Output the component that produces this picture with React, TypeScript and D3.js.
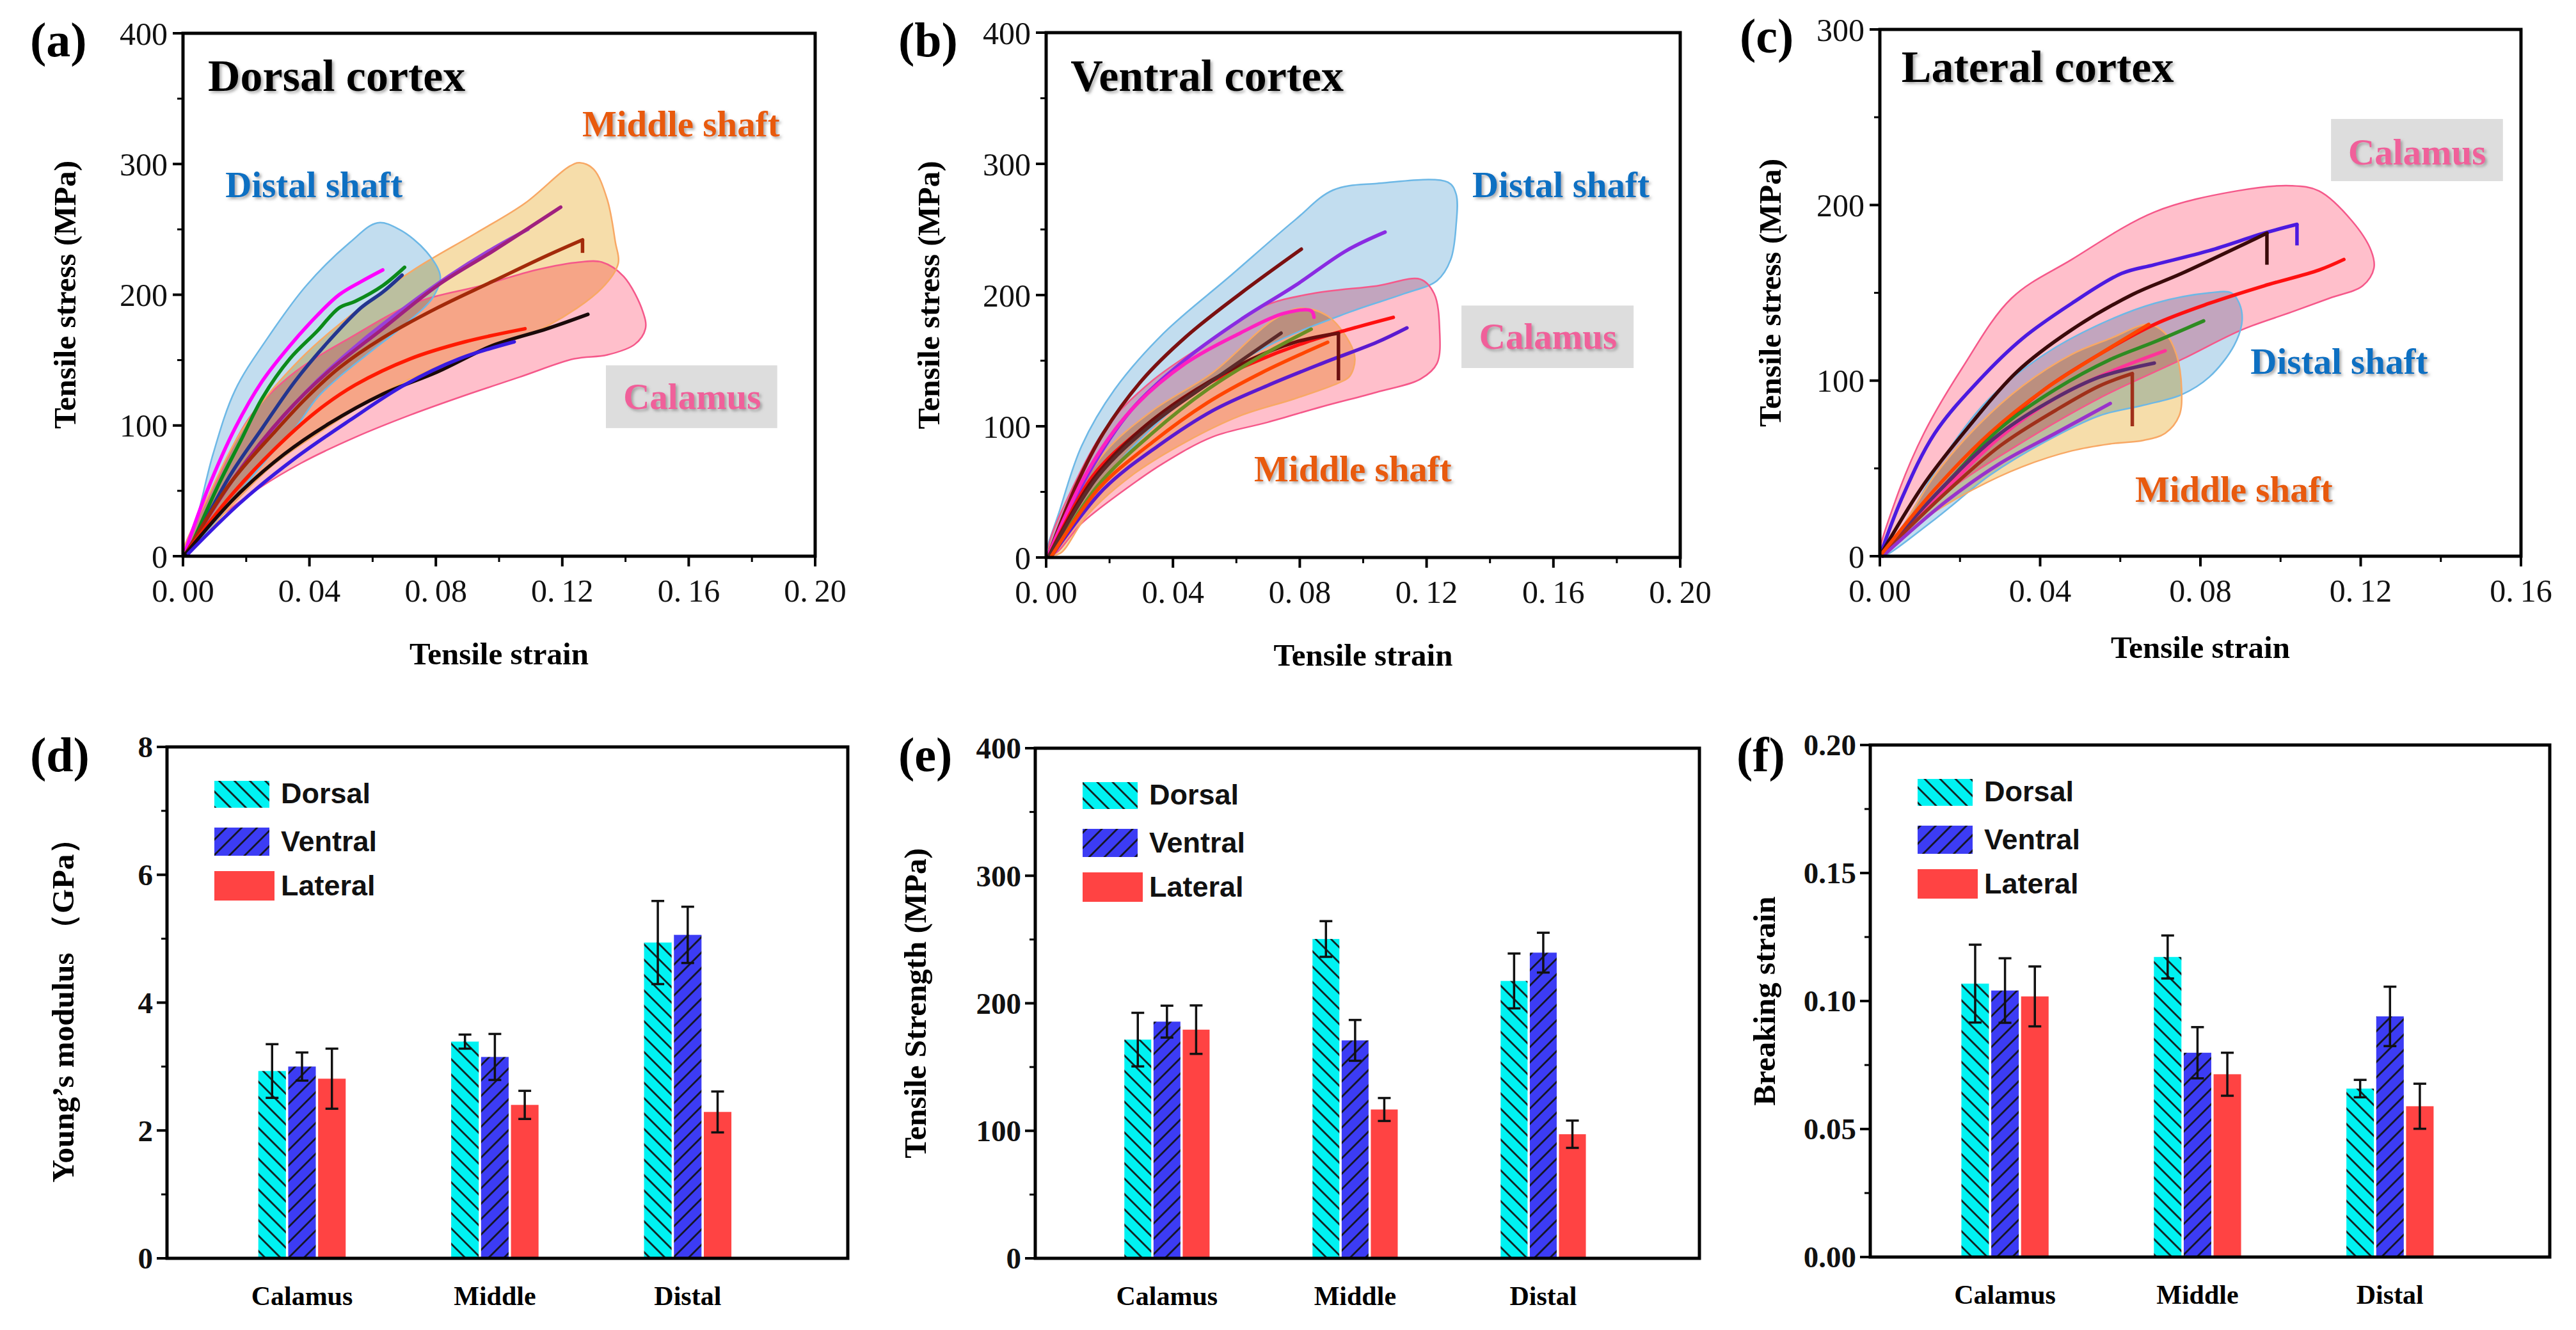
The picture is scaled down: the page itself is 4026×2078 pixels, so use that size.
import React from 'react';
import * as d3 from 'd3';

type P = [number, number];

// ---------- (a) Dorsal cortex: stress-strain curves ----------
const dorsalDistalEnvelope: P[] = [[0.0009,3],[0.0043,28],[0.0095,78],[0.0165,127],[0.0268,167],[0.039,207],[0.0528,240],[0.0615,255],[0.0684,250],[0.077,233],[0.0814,214],[0.0788,197],[0.0701,177],[0.0597,157],[0.0494,137],[0.0424,121],[0.0355,98],[0.0268,75],[0.0165,45],[0.006,15]];
const dorsalMiddleEnvelope: P[] = [[0,2],[0.0078,45],[0.0199,101],[0.0372,151],[0.0545,187],[0.0736,220],[0.0926,247],[0.1082,270],[0.1221,298],[0.1255,301],[0.1299,296],[0.1342,273],[0.1368,240],[0.1377,224],[0.1325,205],[0.1152,176],[0.0978,160],[0.0805,145],[0.0632,125],[0.0459,99],[0.0286,70],[0.0147,37],[0.0026,5]];
const dorsalCalamusEnvelope: P[] = [[0.0009,5],[0.0113,61],[0.0216,108],[0.0355,141],[0.0528,167],[0.0736,194],[0.0944,207],[0.1117,219],[0.1255,225],[0.1325,225],[0.1394,214],[0.1455,187],[0.1463,174],[0.1429,162],[0.1342,154],[0.1238,151],[0.1065,137],[0.0892,123],[0.0719,108],[0.0545,91],[0.0372,71],[0.0216,48],[0.0095,25],[0.0017,2]];
const dorsalCurves: P[][] = [
  [[0.0009,5],[0.0078,51],[0.0165,98],[0.0251,134],[0.0338,161],[0.0424,184],[0.0494,200],[0.0563,210],[0.0632,219]],
  [[0.0017,3],[0.0113,55],[0.0182,88],[0.0251,121],[0.0338,151],[0.0424,172],[0.0494,190],[0.0545,195],[0.0632,207],[0.0701,221]],
  [[0.0017,2],[0.0147,61],[0.0251,98],[0.0355,134],[0.0459,164],[0.0563,190],[0.0632,202],[0.0693,215]],
  [[0.0009,2],[0.0147,55],[0.0286,98],[0.0424,134],[0.0563,164],[0.0701,190],[0.084,214],[0.0978,235],[0.1091,250]],
  [[0.0009,2],[0.0165,61],[0.032,108],[0.0459,141],[0.0632,174],[0.0805,207],[0.0978,233],[0.1195,267]],
  [[0.0009,2],[0.0147,55],[0.0286,94],[0.039,121],[0.0494,144],[0.0632,167],[0.0805,190],[0.0978,210],[0.1152,230],[0.1264,242]],
  [[0.0009,2],[0.0147,45],[0.0286,81],[0.0424,111],[0.0545,131],[0.0719,151],[0.0892,164],[0.1082,174]],
  [[0.0009,2],[0.0165,45],[0.032,78],[0.0459,101],[0.0632,124],[0.0805,141],[0.0978,161],[0.1152,174],[0.1281,185]],
  [[0.0017,2],[0.0182,41],[0.0355,75],[0.0528,104],[0.0701,131],[0.0874,151],[0.1048,164]],
];
const dorsalDrops: (number | null)[] = [null, null, null, null, null, 232, null, null, null];

// ---------- (b) Ventral cortex ----------
const ventralDistalEnvelope: P[] = [[0,1],[0.0043,36],[0.0112,85],[0.0216,128],[0.0371,171],[0.0578,214],[0.0784,257],[0.0905,280],[0.1043,285],[0.1267,286],[0.1293,277],[0.1293,253],[0.1276,227],[0.1233,211],[0.1129,201],[0.0957,187],[0.0698,161],[0.044,121],[0.0216,69],[0.006,16]];
const ventralCalamusEnvelope: P[] = [[0.0009,6],[0.0095,59],[0.0198,102],[0.0336,135],[0.0509,164],[0.0681,191],[0.0836,201],[0.1043,207],[0.1181,212],[0.1224,201],[0.1241,174],[0.1233,148],[0.1181,136],[0.1043,126],[0.0871,115],[0.0698,103],[0.0526,92],[0.0371,72],[0.0233,49],[0.0112,26],[0.0026,3]];
const ventralMiddleEnvelope: P[] = [[0.0009,3],[0.006,29],[0.0181,79],[0.0336,112],[0.0526,141],[0.0716,181],[0.0802,190],[0.0888,184],[0.0957,164],[0.0974,151],[0.0957,138],[0.0922,133],[0.0784,121],[0.0612,108],[0.044,88],[0.0267,62],[0.0129,32],[0.0043,3]];
const ventralCurves: P[][] = [
  [[0.0009,3],[0.0095,55],[0.0181,95],[0.0302,135],[0.044,168],[0.0612,201],[0.0805,235]],
  [[0.0009,1],[0.0129,62],[0.0267,112],[0.044,151],[0.0612,181],[0.0784,207],[0.0948,234],[0.1069,248]],
  [[0.0009,3],[0.0129,65],[0.0267,112],[0.044,148],[0.0612,171],[0.075,186],[0.0836,188],[0.0845,183]],
  [[0.0009,1],[0.0147,62],[0.0302,98],[0.0474,128],[0.0647,148],[0.0819,164],[0.0957,174],[0.1095,183]],
  [[0.0017,1],[0.0181,52],[0.0353,85],[0.0526,112],[0.0698,131],[0.0871,148],[0.1043,164],[0.1138,175]],
  [[0.0009,1],[0.0147,59],[0.0302,98],[0.0474,128],[0.0647,151],[0.0784,164],[0.0922,171]],
  [[0.0017,1],[0.0164,55],[0.0336,95],[0.0509,128],[0.0681,154],[0.0836,174]],
  [[0.0009,1],[0.0164,62],[0.0336,102],[0.0526,135],[0.0741,171]],
  [[0.0017,1],[0.0164,52],[0.0336,88],[0.0509,118],[0.0681,141],[0.0888,164]],
];
const ventralDrops: (number | null)[] = [null, null, null, null, null, 135, null, null, null];

// ---------- (c) Lateral cortex ----------
const lateralCalamusEnvelope: P[] = [[0,1],[0.0041,33],[0.011,70],[0.0205,107],[0.0329,147],[0.0479,169],[0.0685,196],[0.089,208],[0.1027,211],[0.1096,208],[0.1178,191],[0.1226,174],[0.1233,164],[0.1205,154],[0.1123,147],[0.1027,139],[0.0904,129],[0.0753,112],[0.0548,90],[0.0342,63],[0.0164,36],[0.0027,6]];
const lateralDistalEnvelope: P[] = [[0.0007,0],[0.0068,21],[0.0164,58],[0.0274,90],[0.0411,115],[0.0548,132],[0.0685,144],[0.0822,150],[0.0877,150],[0.0897,144],[0.0904,134],[0.0884,120],[0.0822,102],[0.0753,92],[0.0658,86],[0.0548,80],[0.0411,65],[0.0274,46],[0.0137,21]];
const lateralMiddleEnvelope: P[] = [[0.0007,0],[0.0055,16],[0.0137,46],[0.0247,75],[0.0356,97],[0.0479,115],[0.0575,124],[0.0671,132],[0.0712,127],[0.074,115],[0.0753,95],[0.0747,80],[0.0712,70],[0.0658,66],[0.0575,64],[0.0479,60],[0.0356,51],[0.0233,38],[0.011,21]];
const lateralCurves: P[][] = [
  [[0,0],[0.0055,33],[0.0137,70],[0.0247,100],[0.0356,124],[0.0479,144],[0.0603,161],[0.0685,166],[0.0822,174],[0.0959,184],[0.1041,189]],
  [[0,0],[0.011,41],[0.0219,73],[0.0342,105],[0.0479,129],[0.063,149],[0.0753,161],[0.0966,184]],
  [[0,0],[0.0137,33],[0.0274,68],[0.0411,95],[0.0548,115],[0.0685,132],[0.0822,144],[0.0959,154],[0.1096,163],[0.1158,169]],
  [[0,0],[0.0164,41],[0.0301,73],[0.0438,95],[0.0575,112],[0.0685,122],[0.0808,134]],
  [[0,0],[0.0164,38],[0.0301,68],[0.0438,90],[0.0575,105],[0.0712,117]],
  [[0,0],[0.0164,41],[0.0301,70],[0.0438,90],[0.0548,102],[0.0685,110]],
  [[0,0],[0.0164,36],[0.0301,63],[0.0438,83],[0.0548,97],[0.063,104]],
  [[0.0007,0],[0.0164,31],[0.0301,53],[0.0438,70],[0.0575,87]],
  [[0,0],[0.0137,38],[0.0274,70],[0.0411,95],[0.0548,115],[0.0671,132]],
];
const lateralDrops: (number | null)[] = [177, 166, null, null, null, null, 74, null, null];

// ---------- (d)-(f) bar charts ----------
const categories = ['Calamus', 'Middle', 'Distal'];
const seriesNames = ['Dorsal', 'Ventral', 'Lateral'];

const modulusDorsal = [2.93, 3.39, 4.94];
const modulusVentral = [3.0, 3.15, 5.06];
const modulusLateral = [2.81, 2.4, 2.29];
const modulusDorsalErr = [0.42, 0.11, 0.65];
const modulusVentralErr = [0.22, 0.36, 0.44];
const modulusLateralErr = [0.47, 0.22, 0.32];

const strengthDorsal = [171.5, 250.4, 217.5];
const strengthVentral = [185.6, 170.9, 239.7];
const strengthLateral = [179.3, 116.7, 97.3];
const strengthDorsalErr = [21, 14, 21.5];
const strengthVentralErr = [12.5, 16, 15.6];
const strengthLateralErr = [19, 9, 10.7];

const breakDorsal = [0.1068, 0.1172, 0.0658];
const breakVentral = [0.1041, 0.0798, 0.094];
const breakLateral = [0.1018, 0.0714, 0.0589];
const breakDorsalErr = [0.0152, 0.0084, 0.0034];
const breakVentralErr = [0.0126, 0.01, 0.0116];
const breakLateralErr = [0.0117, 0.0084, 0.0088];

// ---------- styling ----------
const SERIF = '"Liberation Serif", "Times New Roman", "DejaVu Serif", serif';
const SANS = '"Liberation Sans", Arial, "DejaVu Sans", sans-serif';

// envelope fills are blended with "multiply" so overlaps darken like layered tints
const DISTAL = { fill: '#C2DDEF', stroke: '#6DB8E6', text: '#0A6FC2' };
const MIDDLE = { fill: '#F6DDAA', stroke: '#F8A865', text: '#E85A0C' };
const CALAMUS = { fill: '#FFBFCB', stroke: '#F5588A', text: '#F0609A' };

const dorsalColors = ['#FF00FF', '#0B8A1A', '#23358F', '#9A40D8', '#A0207F', '#A32A0A', '#FF1A00', '#1A0A0A', '#3A1AE0'];
const ventralColors = ['#7B1010', '#8A2BE2', '#FF20C0', '#FF1010', '#5A1AD0', '#6B0F0F', '#6B8E23', '#5C2A2A', '#FF4500'];
const lateralColors = ['#4B1AE0', '#3A0A0A', '#FF1010', '#2E8B22', '#FF3399', '#5B2C6F', '#A0301A', '#9932CC', '#FF4500'];

type Env = { pts: P[]; c: { fill: string; stroke: string } };
type Lbl = { text: string; x: number; y: number; color: string; box?: [number, number, number, number] };

interface TopSpec {
  letter: string; letterX: number; letterY: number;
  title: string; titleAt: P;
  l: number; r: number; t: number; b: number;
  xMax: number; yMax: number; xStep: number; yStep: number;
  envelopes: Env[];
  curves: P[][]; drops: (number | null)[]; colors: string[];
  labels: Lbl[];
  xTitleDy: number; yTitleDx: number;
}

const topPanels: TopSpec[] = [
  {
    letter: '(a)', letterX: 47, letterY: 88, title: 'Dorsal cortex', titleAt: [0.0079, 356],
    l: 286, r: 1274, t: 52, b: 869, xMax: 0.2, yMax: 400, xStep: 0.04, yStep: 100,
    envelopes: [
      { pts: dorsalCalamusEnvelope, c: CALAMUS },
      { pts: dorsalMiddleEnvelope, c: MIDDLE },
      { pts: dorsalDistalEnvelope, c: DISTAL },
    ],
    curves: dorsalCurves, drops: dorsalDrops, colors: dorsalColors,
    labels: [
      { text: 'Middle shaft', x: 0.1263, y: 321, color: MIDDLE.text },
      { text: 'Distal shaft', x: 0.0134, y: 274.7, color: DISTAL.text },
      { text: 'Calamus', x: 0.1393, y: 112.6, color: CALAMUS.text, box: [0.1338, 0.188, 98, 146] },
    ],
    xTitleDy: 169, yTitleDx: -185,
  },
  {
    letter: '(b)', letterX: 1404, letterY: 88, title: 'Ventral cortex', titleAt: [0.0077, 355.6],
    l: 1635, r: 2626, t: 51, b: 871, xMax: 0.2, yMax: 400, xStep: 0.04, yStep: 100,
    envelopes: [
      { pts: ventralDistalEnvelope, c: DISTAL },
      { pts: ventralCalamusEnvelope, c: CALAMUS },
      { pts: ventralMiddleEnvelope, c: MIDDLE },
    ],
    curves: ventralCurves, drops: ventralDrops, colors: ventralColors,
    labels: [
      { text: 'Distal shaft', x: 0.1344, y: 274.6, color: DISTAL.text },
      { text: 'Calamus', x: 0.1366, y: 159, color: CALAMUS.text, box: [0.131, 0.1853, 144.4, 192] },
      { text: 'Middle shaft', x: 0.0656, y: 58, color: MIDDLE.text },
    ],
    xTitleDy: 169, yTitleDx: -184,
  },
  {
    letter: '(c)', letterX: 2719, letterY: 82, title: 'Lateral cortex', titleAt: [0.0054, 270],
    l: 2938, r: 3940, t: 46, b: 869, xMax: 0.16, yMax: 300, xStep: 0.04, yStep: 100,
    envelopes: [
      { pts: lateralCalamusEnvelope, c: CALAMUS },
      { pts: lateralDistalEnvelope, c: DISTAL },
      { pts: lateralMiddleEnvelope, c: MIDDLE },
    ],
    curves: lateralCurves, drops: lateralDrops, colors: lateralColors,
    labels: [
      { text: 'Calamus', x: 0.1169, y: 223, color: CALAMUS.text, box: [0.1126, 0.1555, 213.6, 249] },
      { text: 'Distal shaft', x: 0.0925, y: 104, color: DISTAL.text },
      { text: 'Middle shaft', x: 0.0637, y: 31, color: MIDDLE.text },
    ],
    xTitleDy: 159, yTitleDx: -172,
  },
];

function TopPanel({ s }: { s: TopSpec }) {
  const x = d3.scaleLinear().domain([0, s.xMax]).range([s.l, s.r]);
  const y = d3.scaleLinear().domain([0, s.yMax]).range([s.b, s.t]);
  const smooth = d3.line<P>().x(d => x(d[0])).y(d => y(d[1])).curve(d3.curveCatmullRom.alpha(0.5));
  const closed = d3.line<P>().x(d => x(d[0])).y(d => y(d[1])).curve(d3.curveCatmullRomClosed.alpha(0.5));
  const straight = d3.line<P>().x(d => x(d[0])).y(d => y(d[1]));
  const xMajor = d3.range(0, s.xMax + 1e-9, s.xStep);
  const xMinor = d3.range(s.xStep / 2, s.xMax, s.xStep);
  const yMajor = d3.range(0, s.yMax + 1e-9, s.yStep);
  const yMinor = d3.range(s.yStep / 2, s.yMax, s.yStep);
  const fx = d3.format('.2f');
  return (
    <g>
      <g style={{ isolation: 'isolate' }}>
        <rect x={s.l} y={s.t} width={s.r - s.l} height={s.b - s.t} fill="#fff" />
        {s.envelopes.map((e, i) => (
          <path key={i} d={closed(e.pts) || ''} fill={e.c.fill} style={{ mixBlendMode: 'multiply' }} />
        ))}
        {s.envelopes.map((e, i) => (
          <path key={'o' + i} d={closed(e.pts) || ''} fill="none" stroke={e.c.stroke} strokeWidth={2.5} />
        ))}
      </g>
      {s.curves.map((c, i) => {
        const end = c[c.length - 1];
        const drop = s.drops[i];
        return (
          <g key={i}>
            <path d={smooth(c) || ''} fill="none" stroke={s.colors[i]} strokeWidth={5.5} strokeLinecap="round" strokeLinejoin="round" />
            {drop !== null && (
              <path d={straight([end, [end[0], drop]]) || ''} fill="none" stroke={s.colors[i]} strokeWidth={5.5} />
            )}
          </g>
        );
      })}
      {s.labels.map((lb, i) => (
        <g key={i}>
          {lb.box && (
            <rect x={x(lb.box[0])} y={y(lb.box[3])} width={x(lb.box[1]) - x(lb.box[0])} height={y(lb.box[2]) - y(lb.box[3])} fill="#DDDDDD" />
          )}
          <text x={x(lb.x)} y={y(lb.y)} fill={lb.color} fontFamily={SERIF} fontWeight="bold" fontSize={57} filter="url(#txtShadow)">{lb.text}</text>
        </g>
      ))}
      <text x={x(s.titleAt[0])} y={y(s.titleAt[1])} fontFamily={SERIF} fontWeight="bold" fontSize={70} fill="#000" filter="url(#txtShadow)">{s.title}</text>
      <rect x={s.l} y={s.t} width={s.r - s.l} height={s.b - s.t} fill="none" stroke="#000" strokeWidth={5} />
      {xMajor.map((v, i) => (
        <g key={'xm' + i}>
          <line x1={x(v)} x2={x(v)} y1={s.b} y2={s.b + 16} stroke="#000" strokeWidth={4} />
          <text x={x(v)} y={s.b + 71} textAnchor="middle" fontFamily={SERIF} fontSize={50} fill="#111">
            {fx(v).slice(0, 2)}<tspan dx={10}>{fx(v).slice(2)}</tspan>
          </text>
        </g>
      ))}
      {xMinor.map((v, i) => (
        <line key={'xn' + i} x1={x(v)} x2={x(v)} y1={s.b} y2={s.b + 9} stroke="#000" strokeWidth={3} />
      ))}
      {yMajor.map((v, i) => (
        <g key={'ym' + i}>
          <line x1={s.l - 16} x2={s.l} y1={y(v)} y2={y(v)} stroke="#000" strokeWidth={4} />
          <text x={s.l - 24} y={y(v)} dy="0.35em" textAnchor="end" fontFamily={SERIF} fontSize={50} fill="#111">{v}</text>
        </g>
      ))}
      {yMinor.map((v, i) => (
        <line key={'yn' + i} x1={s.l - 9} x2={s.l} y1={y(v)} y2={y(v)} stroke="#000" strokeWidth={3} />
      ))}
      <text x={(s.l + s.r) / 2} y={s.b + s.xTitleDy} textAnchor="middle" fontFamily={SERIF} fontWeight="bold" fontSize={49}>Tensile strain</text>
      <text transform={`translate(${s.l + s.yTitleDx},${(s.t + s.b) / 2}) rotate(-90)`} textAnchor="middle" dy="0.35em" fontFamily={SERIF} fontWeight="bold" fontSize={49}>Tensile stress (MPa)</text>
      <text x={s.letterX} y={s.letterY} fontFamily={SERIF} fontWeight="bold" fontSize={76}>{s.letter}</text>
    </g>
  );
}

interface BarSpec {
  letter: string; letterX: number; letterY: number;
  l: number; r: number; t: number; b: number;
  yMax: number; yStep: number; fmt: (v: number) => string;
  values: number[][]; errors: number[][];
  yTitle: string; yTitleDx: number;
}

const barPanels: BarSpec[] = [
  {
    letter: '(d)', letterX: 47, letterY: 1205, l: 261, r: 1325, t: 1167, b: 1966,
    yMax: 8, yStep: 2, fmt: d3.format('d'),
    values: [modulusDorsal, modulusVentral, modulusLateral],
    errors: [modulusDorsalErr, modulusVentralErr, modulusLateralErr],
    yTitle: 'Young\u2019s modulus （GPa）', yTitleDx: -163,
  },
  {
    letter: '(e)', letterX: 1404, letterY: 1205, l: 1618, r: 2656, t: 1169, b: 1966,
    yMax: 400, yStep: 100, fmt: d3.format('d'),
    values: [strengthDorsal, strengthVentral, strengthLateral],
    errors: [strengthDorsalErr, strengthVentralErr, strengthLateralErr],
    yTitle: 'Tensile Strength (MPa)', yTitleDx: -188,
  },
  {
    letter: '(f)', letterX: 2714, letterY: 1205, l: 2923, r: 3985, t: 1164, b: 1964,
    yMax: 0.2, yStep: 0.05, fmt: d3.format('.2f'),
    values: [breakDorsal, breakVentral, breakLateral],
    errors: [breakDorsalErr, breakVentralErr, breakLateralErr],
    yTitle: 'Breaking strain', yTitleDx: -166,
  },
];

const seriesFills = ['url(#hatchDorsal)', 'url(#hatchVentral)', '#FF4343'];
const BAR_W = 0.143;
const BAR_PITCH = 0.155;

function BarPanel({ s }: { s: BarSpec }) {
  const x = d3.scaleLinear().domain([0.3, 3.83]).range([s.l, s.r]);
  const y = d3.scaleLinear().domain([0, s.yMax]).range([s.b, s.t]);
  const yMajor = d3.range(0, s.yMax + 1e-9, s.yStep);
  const yMinor = d3.range(s.yStep / 2, s.yMax, s.yStep);
  const bw = x(BAR_W) - x(0);
  const legendY = [[53, 42, 88], [126, 44, 163], [194, 46, 232]];
  return (
    <g>
      {categories.map((cat, ci) => (
        <g key={cat}>
          {seriesNames.map((sn, si) => {
            const cx = x(ci + 1 + (si - 1) * BAR_PITCH);
            const v = s.values[si][ci];
            return (
              <rect key={sn} x={cx - bw / 2} y={y(v)} width={bw} height={y(0) - y(v)} fill={seriesFills[si]} />
            );
          })}
          {seriesNames.map((sn, si) => {
            const cx = x(ci + 1 + (si - 1) * BAR_PITCH);
            const v = s.values[si][ci];
            const e = s.errors[si][ci];
            return (
              <g key={sn + 'e'} stroke="#111" strokeWidth={3.5}>
                <line x1={cx} x2={cx} y1={y(v + e)} y2={y(v - e)} />
                <line x1={cx - 10} x2={cx + 10} y1={y(v + e)} y2={y(v + e)} />
                <line x1={cx - 10} x2={cx + 10} y1={y(v - e)} y2={y(v - e)} />
              </g>
            );
          })}
          <text x={x(ci + 1)} y={s.b + 73} textAnchor="middle" fontFamily={SERIF} fontWeight="bold" fontSize={42}>{cat}</text>
        </g>
      ))}
      <rect x={s.l} y={s.t} width={s.r - s.l} height={s.b - s.t} fill="none" stroke="#000" strokeWidth={5} />
      {yMajor.map((v, i) => (
        <g key={'ym' + i}>
          <line x1={s.l - 16} x2={s.l} y1={y(v)} y2={y(v)} stroke="#000" strokeWidth={4} />
          <text x={s.l - 22} y={y(v)} dy="0.35em" textAnchor="end" fontFamily={SERIF} fontWeight="bold" fontSize={47} fill="#111">{s.fmt(v)}</text>
        </g>
      ))}
      {yMinor.map((v, i) => (
        <line key={'yn' + i} x1={s.l - 9} x2={s.l} y1={y(v)} y2={y(v)} stroke="#000" strokeWidth={3} />
      ))}
      {seriesNames.map((sn, si) => (
        <g key={'lg' + sn}>
          <rect x={s.l + 74} y={s.t + legendY[si][0]} width={si === 2 ? 94 : 86} height={legendY[si][1]} fill={seriesFills[si]} />
          <text x={s.l + 178} y={s.t + legendY[si][2]} fontFamily={SANS} fontWeight="bold" fontSize={45} fill="#111">{sn}</text>
        </g>
      ))}
      <text transform={`translate(${s.l + s.yTitleDx},${(s.t + s.b) / 2}) rotate(-90)`} textAnchor="middle" dy="0.35em" fontFamily={SERIF} fontWeight="bold" fontSize={49}>{s.yTitle}</text>
      <text x={s.letterX} y={s.letterY} fontFamily={SERIF} fontWeight="bold" fontSize={76}>{s.letter}</text>
    </g>
  );
}

export default function App() {
  return (
    <svg width={4026} height={2078} viewBox="0 0 4026 2078" style={{ position: 'absolute', left: 0, top: 0, background: '#fff' }}>
      <defs>
        <pattern id="hatchDorsal" patternUnits="userSpaceOnUse" width={17} height={17} patternTransform="rotate(-45)">
          <rect width={17} height={17} fill="#00F2F2" />
          <line x1={8.5} y1={0} x2={8.5} y2={17} stroke="#111" strokeWidth={2.6} />
        </pattern>
        <pattern id="hatchVentral" patternUnits="userSpaceOnUse" width={17} height={17} patternTransform="rotate(45)">
          <rect width={17} height={17} fill="#3C3CF4" />
          <line x1={8.5} y1={0} x2={8.5} y2={17} stroke="#111" strokeWidth={2.6} />
        </pattern>
        <filter id="txtShadow" x="-10%" y="-30%" width="130%" height="170%">
          <feDropShadow dx={3} dy={3} stdDeviation={2} floodColor="#777" floodOpacity={0.6} />
        </filter>
      </defs>
      <rect width={4026} height={2078} fill="#fff" />
      {topPanels.map(p => <TopPanel key={p.letter} s={p} />)}
      {barPanels.map(p => <BarPanel key={p.letter} s={p} />)}
    </svg>
  );
}
